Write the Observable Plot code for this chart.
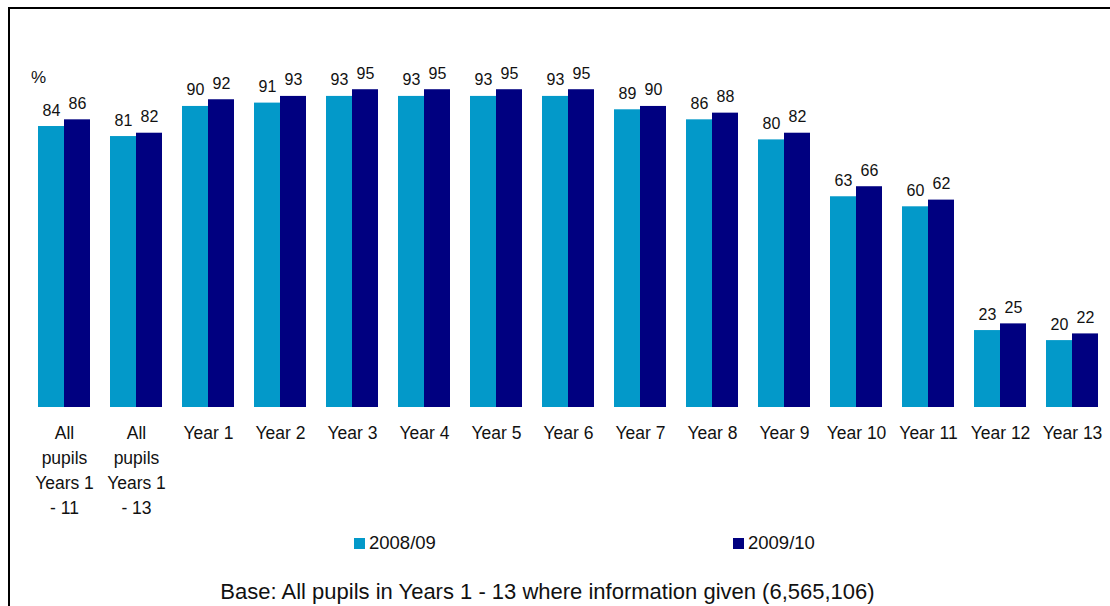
<!DOCTYPE html>
<html>
<head>
<meta charset="utf-8">
<script src="https://cdn.jsdelivr.net/npm/d3@7"></script>
<script src="https://cdn.jsdelivr.net/npm/@observablehq/plot@0.6"></script>
<style>
  body { margin: 0; background: #fff; font-family: "Liberation Sans", Arial, sans-serif; }
  #wrap { position: relative; width: 1110px; height: 606px; overflow: hidden; background: #fff; }
  #frame { position: absolute; left: 8px; top: 7px; width: 1200px; height: 700px; border-left: 2px solid #000; border-top: 2px solid #000; }
  #chart { position: absolute; left: 0; top: 0; }
  #pct { position: absolute; left: 31px; top: 68px; font-size: 17px; color: #111; }
  .leg { position: absolute; top: 532px; font-size: 18.5px; color: #111; display: flex; align-items: center; }
  .leg span.sw { display: inline-block; width: 11px; height: 11px; margin-right: 4px; }
  #caption { position: absolute; left: 0; width: 1095px; top: 579px; text-align: center; font-size: 22px; color: #111; }
</style>
</head>
<body>
<div id="wrap">
  <div id="frame"></div>
  <div id="chart"></div>
  <div id="pct">%</div>
  <div id="legend"></div>
  <div id="caption"></div>
</div>
<script>
const categories = ["All pupils Years 1 - 11", "All pupils Years 1 - 13", "Year 1", "Year 2", "Year 3", "Year 4", "Year 5", "Year 6", "Year 7", "Year 8", "Year 9", "Year 10", "Year 11", "Year 12", "Year 13"];
const series = ["2008/09", "2009/10"];
const values0809 = [84, 81, 90, 91, 93, 93, 93, 93, 89, 86, 80, 63, 60, 23, 20];
const values0910 = [86, 82, 92, 93, 95, 95, 95, 95, 90, 88, 82, 66, 62, 25, 22];
const colors = ["#0399c9", "#000080"];
const captionText = "Base: All pupils in Years 1 - 13 where information given (6,565,106)";

const data = [];
categories.forEach((c, i) => {
  data.push({category: c, series: series[0], value: values0809[i]});
  data.push({category: c, series: series[1], value: values0910[i]});
});

const chart = Plot.plot({
  width: 1110,
  height: 520,
  marginLeft: 26,
  marginRight: 0,
  marginTop: 72.5,
  marginBottom: 113,
  style: {fontFamily: "'Liberation Sans', Arial, sans-serif", color: "#111", background: "transparent"},
  fx: {domain: categories, paddingInner: 0.28, paddingOuter: 0.14, label: null},
  x: {domain: series, padding: 0, axis: null},
  y: {domain: [0, 100], axis: null},
  color: {domain: series, range: colors},
  marks: [
    Plot.barY(data, {fx: "category", x: "series", y: "value", fill: "series", inset: 0}),
    Plot.text(data, {fx: "category", x: "series", y: "value", text: d => String(d.value), lineAnchor: "bottom", dy: -11, fontSize: 16, fill: "#111"}),
    Plot.axisFx({anchor: "bottom", tickSize: 0, tickPadding: 14, fontSize: 17.5, lineWidth: 3.8, lineHeight: 1.42, label: null, fill: "#111"})
  ]
});
document.getElementById("chart").appendChild(chart);

const legend = document.getElementById("legend");
const legX = [354, 733];
series.forEach((s, i) => {
  const d = document.createElement("div");
  d.className = "leg";
  d.style.left = legX[i] + "px";
  const sw = document.createElement("span");
  sw.className = "sw";
  sw.style.background = colors[i];
  d.appendChild(sw);
  d.appendChild(document.createTextNode(s));
  legend.appendChild(d);
});
document.getElementById("caption").textContent = captionText;
</script>
</body>
</html>
